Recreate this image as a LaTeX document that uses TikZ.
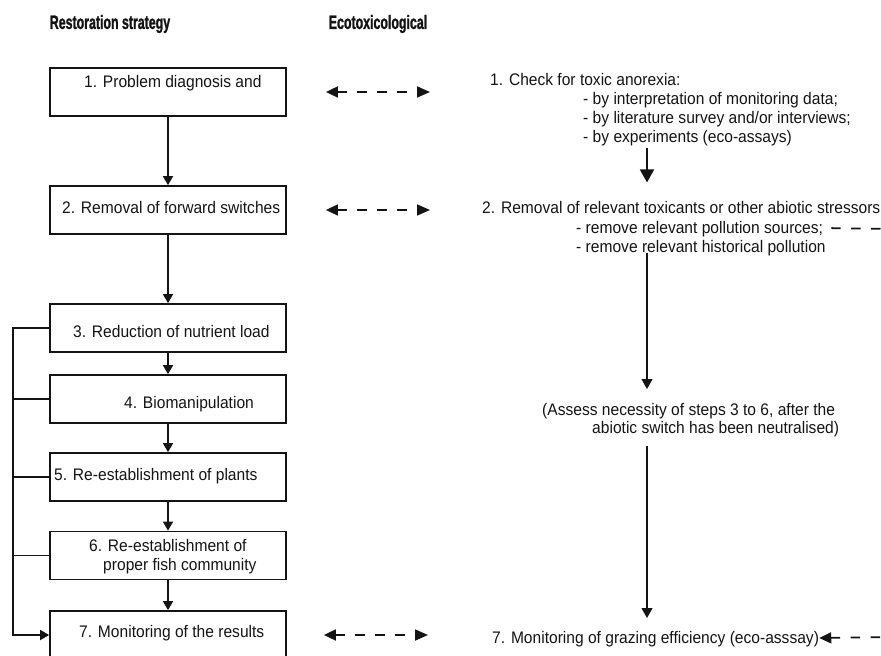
\documentclass[tikz,border=0pt]{standalone}
\usepackage{fontspec}
\setmainfont[FakeStretch=0.93]{Liberation Sans}
\newfontfamily\headfont[FakeStretch=0.64,BoldFeatures={FakeBold=1.2}]{Liberation Sans}
\usetikzlibrary{arrows.meta,positioning,calc}
\definecolor{ink}{HTML}{141414}

\tikzset{
  stage/.style={draw=ink, line width=1.5pt, minimum width=7.08cm,
    minimum height=1.44cm, inner sep=0pt},
  txt/.style={anchor=west, inner sep=0pt, text height=10.2pt, text depth=0pt,
    text=ink, font=\fontsize{14.3}{17}\selectfont},
  head/.style={inner sep=0pt, text height=11.8pt, text depth=0pt, text=ink,
    font=\headfont\bfseries\fontsize{16.5}{19}\selectfont},
  wire/.style={draw=ink, line width=1.5pt},
  flow/.style={wire, -{Triangle[length=0.27cm,width=0.3cm]}},
  bigflow/.style={wire, -{Triangle[length=0.39cm,width=0.42cm]}},
  midflow/.style={wire, -{Triangle[length=0.3cm,width=0.32cm]}},
  link/.style={wire, dash pattern=on 8pt off 9pt,
    {Triangle[length=0.36cm,width=0.33cm]}-{Triangle[length=0.39cm,width=0.33cm]}}
}

\begin{document}
\begin{tikzpicture}[x=0.03cm, y=-0.03cm]
\useasboundingbox (0,0) rectangle (881,656);
\clip (0,0) rectangle (881,656);

% ---------- headings
\node[head] (hl) at (110,22) {Restoration strategy};
\node[head] (hr) at (378,22) {Ecotoxicological};

% ---------- left column: the steps
\node[stage] (b1) at (168,92)    {};
\node[stage] (b2) at (168,210)   {};
\node[stage] (b3) at (168,328)   {};
\node[stage] (b4) at (168,399)   {};
\node[stage] (b5) at (168,477)   {};
\node[stage] (b6) at (168,555.5) {};
\node[stage] (b7) at (168,635)   {};

\node[txt] (t1)  at (84,82)   {1. Problem diagnosis and};
\node[txt] (t2)  at (62,208)  {2. Removal of forward switches};
\node[txt] (t3)  at (73,332)  {3. Reduction of nutrient load};
\node[txt] (t4)  at (124,403) {4. Biomanipulation};
\node[txt] (t5)  at (54,475)  {5. Re-establishment of plants};
\node[txt] (t6a) at (89,546)  {6. Re-establishment of};
\node[txt] (t6b) at (103,565) {proper fish community};
\node[txt] (t7)  at (79,632)  {7. Monitoring of the results};

\foreach \a/\b in {b1/b2, b2/b3, b3/b4, b4/b5, b5/b6, b6/b7}
  \draw[flow] (\a) -- (\b);

% feedback bus on the left
\coordinate (bus) at (13,0);
\draw[flow] (b3.west) -- (b3.west -| bus) |- (b7.west);
\foreach \n in {b4, b5, b6}
  \draw[wire] (\n.west) -- (\n.west -| bus);

% ---------- right column: ecotoxicological steps
\node[txt] (e1)  at (490,80)  {1. Check for toxic anorexia:};
\node[txt] (e1a) at (583,99)  {- by interpretation of monitoring data;};
\node[txt] (e1b) at (583,118) {- by literature survey and/or interviews;};
\node[txt] (e1c) at (583,137) {- by experiments (eco-assays)};

\node[txt] (e2)  at (482,208) {2. Removal of relevant toxicants or other abiotic stressors};
\node[txt] (e2a) at (576,228) {- remove relevant pollution sources;};
\node[txt] (e2b) at (576,247) {- remove relevant historical pollution};

\node[txt] (r3a) at (542,410) {(Assess necessity of steps 3 to 6, after the};
\node[txt] (r3b) at (592,428) {abiotic switch has been neutralised)};

\node[txt] (r4)  at (492,638) {7. Monitoring of grazing efficiency (eco-asssay)};

\coordinate (rail) at (647,0);
\draw[bigflow, shorten <=0.14cm, shorten >=0.58cm] (e1c.south -| rail) -- (e2.north -| rail);
\draw[midflow, shorten >=0.44cm] (e2b.south -| rail) -- (r3a.north -| rail);
\draw[midflow, shorten <=0.35cm, shorten >=0.41cm] (r3b.south -| rail) -- (r4.north -| rail);

% ---------- links between the columns
\draw[link, shorten <=1.17cm, shorten >=1.56cm] (b1.east) -- (b1.east -| e2.west);
\draw[link, shorten <=1.17cm, shorten >=1.56cm] (b2.east) -- (b2.east -| e2.west);
\draw[link, shorten <=1.11cm, shorten >=1.92cm] (b7.east) -- (b7.east -| r4.west);

% links running off the right edge
\coordinate (out2) at (895,229);
\coordinate (out7) at (895,637);
\draw[wire, dash pattern=on 8pt off 9pt, shorten <=0.24cm] (e2a.east) -- (out2);
\draw[wire, dash pattern=on 8pt off 9pt, {Triangle[length=0.36cm,width=0.33cm]}-]
  (r4.east) -- (out7);
\end{tikzpicture}
\end{document}
